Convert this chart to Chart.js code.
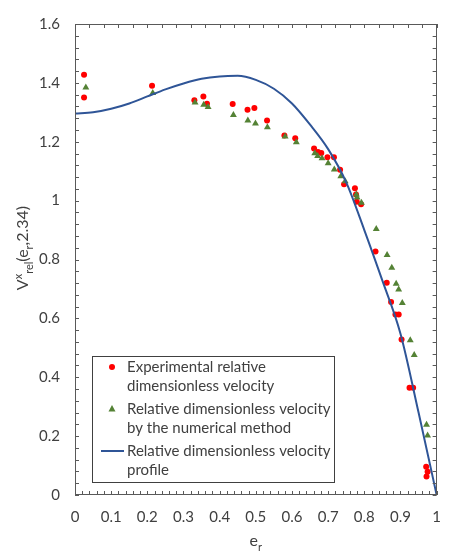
<!DOCTYPE html>
<html>
<head>
<meta charset="utf-8">
<script src="https://cdn.jsdelivr.net/npm/chart.js@4.4.1/dist/chart.umd.min.js"></script>
<style>
  html, body { margin: 0; padding: 0; background: #fff; }
</style>
</head>
<body>
<canvas id="chart" width="454" height="554"></canvas>
<script>
// experimental points (red)
const expX = [0.025, 0.025, 0.213, 0.330, 0.355, 0.365, 0.436, 0.477, 0.496, 0.531, 0.579, 0.609,
  0.661, 0.672, 0.681, 0.698, 0.716, 0.733, 0.744, 0.774, 0.777, 0.779, 0.791, 0.831, 0.862,
  0.874, 0.886, 0.895, 0.903, 0.925, 0.935, 0.971, 0.975, 0.972];
const expY = [1.428, 1.350, 1.390, 1.341, 1.354, 1.329, 1.328, 1.309, 1.315, 1.272, 1.221, 1.212,
  1.177, 1.165, 1.162, 1.147, 1.147, 1.105, 1.056, 1.042, 1.021, 0.996, 0.988, 0.827, 0.721,
  0.656, 0.613, 0.613, 0.528, 0.364, 0.364, 0.096, 0.079, 0.063];

// numerical method (green triangles)
const numX = [0.030, 0.215, 0.332, 0.356, 0.368, 0.438, 0.478, 0.499, 0.532, 0.581, 0.612,
  0.663, 0.671, 0.683, 0.700, 0.717, 0.735, 0.747, 0.778, 0.780, 0.792, 0.833, 0.863, 0.876,
  0.888, 0.895, 0.905, 0.927, 0.938, 0.972, 0.975];
const numY = [1.384, 1.366, 1.333, 1.326, 1.318, 1.291, 1.272, 1.262, 1.249, 1.218, 1.198,
  1.161, 1.152, 1.144, 1.127, 1.106, 1.083, 1.066, 1.021, 1.011, 0.993, 0.904, 0.815, 0.772,
  0.718, 0.698, 0.652, 0.526, 0.476, 0.239, 0.202];

// velocity profile (blue line)
const profX = [0, 0.05, 0.1, 0.15, 0.2, 0.25, 0.3, 0.35, 0.4, 0.45, 0.5, 0.55, 0.6, 0.65, 0.7,
  0.75, 0.8, 0.85, 0.9, 0.95, 1];
const profY = [1.296, 1.300, 1.312, 1.330, 1.354, 1.378, 1.398, 1.414, 1.422, 1.424, 1.410,
  1.380, 1.330, 1.258, 1.175, 1.062, 0.900, 0.728, 0.548, 0.280, 0];

const legendText = [
  ["Experimental relative", "dimensionless velocity"],
  ["Relative dimensionless velocity", "by the numerical method"],
  ["Relative dimensionless velocity", "profile"]
];

const FONT = "Lato, 'Open Sans', sans-serif";
const TXT = "#404040";
const RED = "#ff0000";
const GREEN = "#548235";
const BLUE = "#2f5597";

function pts(xs, ys) {
  return xs.map((v, i) => ({ x: v, y: ys[i] }));
}

// draws text pieces with sub/superscripts, centred on 0
function richText(ctx, parts, size) {
  const small = Math.round(size * 0.68);
  let w = 0;
  parts.forEach(p => {
    ctx.font = (p[1] ? small : size) + "px " + FONT;
    p.w = ctx.measureText(p[0]).width;
    w += p.w;
  });
  let x = -w / 2;
  parts.forEach(p => {
    ctx.font = (p[1] ? small : size) + "px " + FONT;
    let dy = 0;
    if (p[1] == "sup") dy = -size * 0.4;
    if (p[1] == "sub") dy = size * 0.3;
    ctx.fillText(p[0], x, dy);
    x += p.w;
  });
}

// frame, inside ticks, axis titles and legend
const decor = {
  id: "decor",
  afterDatasetsDraw(chart) {
    const { ctx, chartArea: a, scales: { x, y } } = chart;
    ctx.save();
    ctx.strokeStyle = "#595959";
    ctx.lineWidth = 1;
    ctx.beginPath();
    for (let i = 0; i <= 40; i++) {
      const py = Math.round(y.getPixelForValue(i * 0.04)) + 0.5;
      ctx.moveTo(a.left, py); ctx.lineTo(a.left + 4, py);
      ctx.moveTo(a.right, py); ctx.lineTo(a.right - 4, py);
    }
    for (let i = 0; i <= 50; i++) {
      const px = Math.round(x.getPixelForValue(i * 0.02)) + 0.5;
      ctx.moveTo(px, a.bottom); ctx.lineTo(px, a.bottom - 4);
    }
    for (let i = 0; i <= 25; i++) {
      const px = Math.round(x.getPixelForValue(i * 0.04)) + 0.5;
      ctx.moveTo(px, a.top); ctx.lineTo(px, a.top + 4);
    }
    ctx.stroke();
    ctx.strokeRect(Math.round(a.left) + 0.5, Math.round(a.top) + 0.5,
      Math.round(a.width) - 1, Math.round(a.height) - 1);

    // legend
    const lx = a.left + 17, ly = a.bottom - 139, lw = 242, lh = 126;
    ctx.fillStyle = "#fff";
    ctx.fillRect(lx, ly, lw, lh);
    ctx.strokeStyle = "#404040";
    ctx.strokeRect(lx + 0.5, ly + 0.5, lw, lh);
    ctx.font = "15px " + FONT;
    ctx.fillStyle = TXT;
    ctx.textBaseline = "middle";
    ctx.textAlign = "left";
    legendText.forEach((lines, i) => {
      const cy = ly + 11 + i * 42;
      lines.forEach((t, j) => ctx.fillText(t, lx + 35, cy + j * 19.5));
    });
    const mx = lx + 20;
    ctx.fillStyle = RED;
    ctx.beginPath(); ctx.arc(mx, ly + 11, 3, 0, Math.PI * 2); ctx.fill();
    ctx.fillStyle = GREEN;
    ctx.beginPath();
    ctx.moveTo(mx, ly + 53 - 4); ctx.lineTo(mx + 3.5, ly + 53 + 2.5); ctx.lineTo(mx - 3.5, ly + 53 + 2.5);
    ctx.closePath(); ctx.fill();
    ctx.strokeStyle = BLUE; ctx.lineWidth = 2;
    ctx.beginPath(); ctx.moveTo(mx - 11, ly + 95); ctx.lineTo(mx + 12, ly + 95); ctx.stroke();

    // axis titles
    ctx.fillStyle = TXT;
    ctx.textBaseline = "alphabetic";
    ctx.textAlign = "left";
    ctx.save();
    ctx.translate((a.left + a.right) / 2, 546);
    richText(ctx, [["e"], ["r", "sub"]], 16);
    ctx.restore();
    ctx.save();
    ctx.translate(28, 248);
    ctx.rotate(-Math.PI / 2);
    richText(ctx, [["V"], ["x", "sup"], ["rel", "sub"], ["(e"], ["r", "sub"], [",2.34)"]], 16);
    ctx.restore();
    ctx.restore();
  }
};

new Chart(document.getElementById("chart"), {
  type: "scatter",
  data: {
    datasets: [
      {
        label: legendText[0].join(" "),
        data: pts(expX, expY),
        pointStyle: "circle",
        pointRadius: 3,
        backgroundColor: RED,
        borderWidth: 0,
        order: 3
      },
      {
        label: legendText[1].join(" "),
        data: pts(numX, numY),
        pointStyle: "triangle",
        pointRadius: 4,
        backgroundColor: GREEN,
        borderWidth: 0,
        order: 2
      },
      {
        label: legendText[2].join(" "),
        type: "line",
        data: pts(profX, profY),
        borderColor: BLUE,
        borderWidth: 2,
        pointRadius: 0,
        cubicInterpolationMode: "monotone",
        fill: false,
        order: 1
      }
    ]
  },
  options: {
    responsive: false,
    animation: false,
    layout: { padding: { top: 15, right: 1, left: 0, bottom: 0 } },
    plugins: { legend: { display: false }, tooltip: { enabled: false } },
    scales: {
      x: {
        type: "linear", min: 0, max: 1,
        grid: { display: false, drawTicks: false },
        border: { display: false },
        ticks: {
          stepSize: 0.1, padding: 13, color: TXT, maxRotation: 0,
          font: { family: FONT, size: 15 },
          callback: v => String(+v.toFixed(2))
        },
        afterFit(s) { s.height = 59; }
      },
      y: {
        min: 0, max: 1.6,
        grid: { display: false, drawTicks: false },
        border: { display: false },
        ticks: {
          stepSize: 0.2, padding: 15, color: TXT,
          font: { family: FONT, size: 15 },
          callback: v => String(+v.toFixed(2))
        },
        afterFit(s) { s.width = 75; }
      }
    }
  },
  plugins: [decor]
});
</script>
</body>
</html>
